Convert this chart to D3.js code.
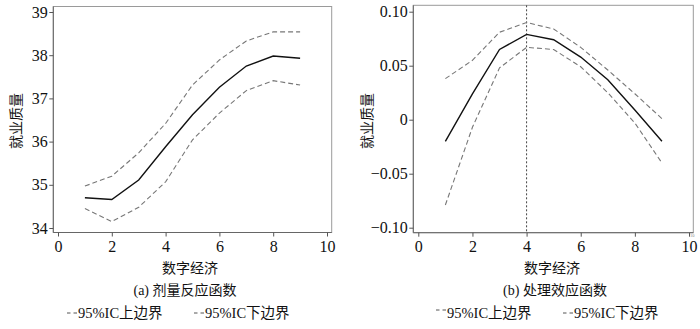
<!DOCTYPE html>
<html>
<head>
<meta charset="utf-8">
<script src="https://cdn.jsdelivr.net/npm/d3@7"></script>
<style>
  body { margin: 0; background: #fff; }
  svg text { font-family: "Liberation Serif", "Noto Sans CJK SC", serif; fill: #111; }
</style>
</head>
<body>
<script>
// data
const xs = [1, 2, 3, 4, 5, 6, 7, 8, 9];

// (a) dose response
const doseMid = [34.70, 34.66, 35.11, 35.88, 36.62, 37.26, 37.75, 37.98, 37.93];
const doseUp = [34.97, 35.20, 35.74, 36.42, 37.31, 37.89, 38.33, 38.54, 38.54];
const doseLow = [34.45, 34.15, 34.48, 35.07, 36.04, 36.66, 37.18, 37.41, 37.31];
const doseTicksY = [34, 35, 36, 37, 38, 39];

// (b) treatment effect
const effMid = [-0.020, 0.024, 0.065, 0.079, 0.074, 0.058, 0.037, 0.009, -0.020];
const effUp = [0.038, 0.055, 0.081, 0.090, 0.084, 0.067, 0.046, 0.024, 0.001];
const effLow = [-0.079, -0.007, 0.048, 0.067, 0.065, 0.049, 0.025, -0.003, -0.040];
const effTicksY = [-0.10, -0.05, 0, 0.05, 0.10];

const ticksX = [0, 2, 4, 6, 8, 10];

const yTitle = "就业质量";
const xTitle = "数字经济";
const legendLabels = ["95%IC上边界", "95%IC下边界"];

const svg = d3.select("body").append("svg")
    .attr("width", 700)
    .attr("height", 329);

function fmtEff(d) {
    if (d === 0) return "0";
    return (d < 0 ? "\u2212" : "") + Math.abs(d).toFixed(2);
}

function drawPanel(p) {
    const g = svg.append("g");

    let x = d3.scaleLinear().domain([0, 10]).range(p.xRange);
    let y = d3.scaleLinear().domain(p.yDomain).range(p.yRange);

    // frame
    g.append("rect")
        .attr("x", p.box[0]).attr("y", p.box[1])
        .attr("width", p.box[2] - p.box[0]).attr("height", p.box[3] - p.box[1])
        .attr("fill", "none").attr("stroke", "#9a9a9a").attr("stroke-width", 1);

    // y axis
    const ya = g.append("g")
        .attr("transform", "translate(" + p.box[0] + ",0)")
        .call(d3.axisLeft(y).tickValues(p.ticksY).tickSize(4).tickPadding(1.5).tickFormat(p.fmt));
    ya.select(".domain").attr("d", "M0," + p.box[1] + "V" + p.box[3]).attr("stroke", "#666");
    ya.selectAll(".tick line").attr("stroke", "#555");
    ya.selectAll(".tick text").style("font-size", "16px").style("fill", "#111");

    // x axis
    const xa = g.append("g")
        .attr("transform", "translate(0," + p.box[3] + ")")
        .call(d3.axisBottom(x).tickValues(ticksX).tickSize(4).tickPadding(4).tickFormat(d3.format("d")));
    xa.select(".domain").attr("d", "M" + p.box[0] + ",0H" + p.box[2]).attr("stroke", "#666");
    xa.selectAll(".tick line").attr("stroke", "#555");
    xa.selectAll(".tick text").style("font-size", "16px").style("fill", "#111");

    // reference line
    if (p.vline !== undefined) {
        g.append("line")
            .attr("x1", x(p.vline)).attr("x2", x(p.vline))
            .attr("y1", p.box[1]).attr("y2", p.box[3])
            .attr("stroke", "#444").attr("stroke-width", 1)
            .attr("stroke-dasharray", "2,2");
    }

    const line = d3.line()
        .x((d, i) => x(xs[i]))
        .y(d => y(d));

    [p.up, p.low].forEach(s => {
        g.append("path")
            .datum(s)
            .attr("d", line)
            .attr("fill", "none")
            .attr("stroke", "#777")
            .attr("stroke-width", 1.1)
            .attr("stroke-dasharray", "5,3");
    });
    g.append("path")
        .datum(p.mid)
        .attr("d", line)
        .attr("fill", "none")
        .attr("stroke", "#111")
        .attr("stroke-width", 1.4);

    // titles
    g.append("text")
        .attr("transform", "translate(" + p.yTitleX + ",121) rotate(-90)")
        .attr("text-anchor", "middle")
        .attr("dominant-baseline", "central")
        .style("font-size", "14px")
        .text(yTitle);

    g.append("text")
        .attr("x", p.xTitleX).attr("y", 268)
        .attr("text-anchor", "middle")
        .attr("dominant-baseline", "central")
        .style("font-size", "14px")
        .text(xTitle);

    g.append("text")
        .attr("x", p.capX).attr("y", 290.5)
        .attr("text-anchor", "middle")
        .attr("dominant-baseline", "central")
        .style("font-size", "14px")
        .text(p.caption);

    // legend
    p.legX.forEach((lx, i) => {
        const ly = 313 + (p.legDy ? p.legDy[i] : 0);
        g.append("line")
            .attr("x1", lx).attr("x2", lx + 10)
            .attr("y1", ly).attr("y2", ly)
            .attr("stroke", "#555").attr("stroke-width", 1)
            .attr("stroke-dasharray", "3.5,3");
        g.append("text")
            .attr("x", lx + 11).attr("y", 313)
            .attr("dominant-baseline", "central")
            .style("font-size", "14.5px")
            .text(legendLabels[i]);
    });

    // small stray label seen just by the last tick in the source image
    if (p.stray) {
        g.append("text")
            .attr("x", x(10) + 1).attr("y", p.box[3] + 4.2)
            .attr("text-anchor", "start")
            .style("font-size", "4.5px")
            .style("fill", "#888")
            .text(p.stray);
    }
}

drawPanel({
    xRange: [58, 327],
    yDomain: [34, 39],
    yRange: [228, 12],
    box: [53.3, 6.5, 331.7, 232.5],
    ticksY: doseTicksY,
    fmt: d3.format("d"),
    mid: doseMid, up: doseUp, low: doseLow,
    yTitleX: 16,
    xTitleX: 190,
    capX: 185,
    caption: "(a) 剂量反应函数",
    legX: [67, 194]
});

drawPanel({
    xRange: [418.3, 689],
    yDomain: [-0.1, 0.1],
    yRange: [227.7, 11.7],
    box: [413.3, 5.3, 693.3, 232.7],
    ticksY: effTicksY,
    fmt: fmtEff,
    mid: effMid, up: effUp, low: effLow,
    vline: 4,
    yTitleX: 367,
    xTitleX: 552,
    capX: 555,
    caption: "(b) 处理效应函数",
    legX: [436, 563],
    legDy: [-3, 0],
    stray: "10"
});
</script>
</body>
</html>
